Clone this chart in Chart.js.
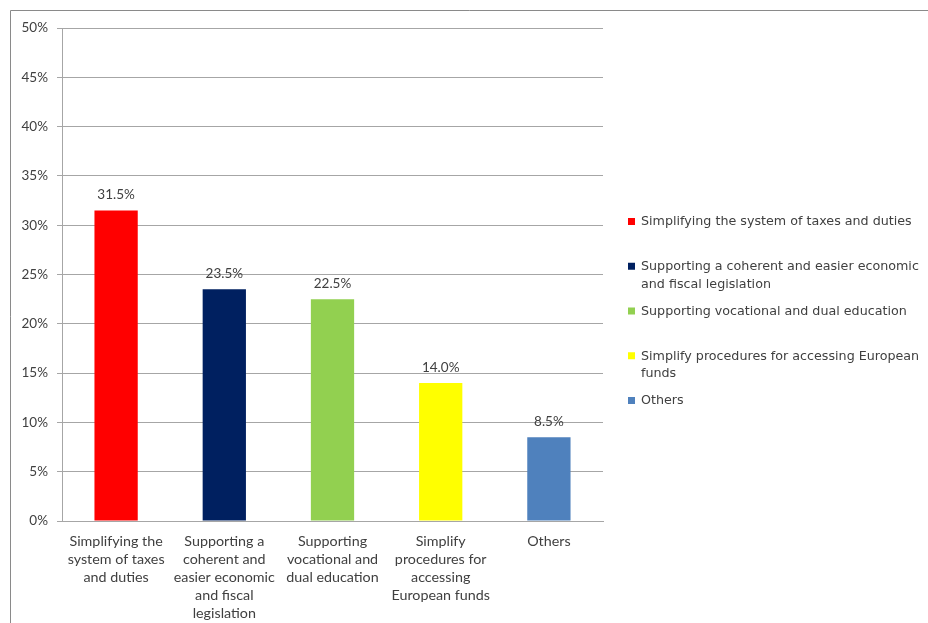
<!DOCTYPE html>
<html>
<head>
<meta charset="utf-8">
<script src="https://cdn.jsdelivr.net/npm/chart.js@4/dist/chart.umd.min.js"></script>
<style>
  html, body { margin: 0; padding: 0; background: #ffffff; }
  #wrap { width: 928px; height: 623px; position: relative; }
</style>
</head>
<body>
<div id="wrap"><canvas id="chart" width="928" height="623"></canvas></div>
<script>
// Categories (axis labels, wrapped) and legend names
const categories = [
  ["Simplifying the", "system of taxes", "and duties"],
  ["Supporting a", "coherent and", "easier economic", "and fiscal", "legislation"],
  ["Supporting", "vocational and", "dual education"],
  ["Simplify", "procedures for", "accessing", "European funds"],
  ["Others"]
];
const legendNames = [
  "Simplifying the system of taxes and duties",
  "Supporting a coherent and easier economic and fiscal legislation",
  "Supporting vocational and dual education",
  "Simplify procedures for accessing European funds",
  "Others"
];
// Share of respondents, percent
const shares = [31.5, 23.5, 22.5, 14.0, 8.5];
const barColors = ["#FF0000", "#002060", "#92D050", "#FFFF00", "#4F81BD"];
// Value axis
const yMin = 0, yMax = 50, yStep = 5;

const labelFont = "Lato, 'Liberation Sans', sans-serif";
const textColor = "#404040";

// Outer frame of the chart box
const framePlugin = {
  id: "frame",
  beforeDraw(chart) {
    const ctx = chart.ctx;
    ctx.save();
    ctx.strokeStyle = "#8a8a8a";
    ctx.lineWidth = 1;
    ctx.beginPath();
    ctx.moveTo(10.5, chart.height);
    ctx.lineTo(10.5, 10.5);
    ctx.lineTo(chart.width, 10.5);
    ctx.stroke();
    ctx.restore();
  }
};

// Value labels above each bar
const valueLabels = {
  id: "valueLabels",
  afterDatasetsDraw(chart) {
    const ctx = chart.ctx;
    const meta = chart.getDatasetMeta(0);
    ctx.save();
    ctx.font = "13.5px " + labelFont;
    ctx.fillStyle = textColor;
    ctx.textAlign = "center";
    ctx.textBaseline = "middle";
    meta.data.forEach((bar, i) => {
      const v = chart.data.datasets[0].data[i];
      ctx.fillText(v.toFixed(1) + "%", bar.x, bar.y - 15.5);
    });
    ctx.restore();
  }
};

// Legend on the right, wrapped to the space left of the edge
const sideLegend = {
  id: "sideLegend",
  afterDraw(chart) {
    const ctx = chart.ctx;
    const area = chart.chartArea;
    const boxX = area.right + 25;
    const textX = boxX + 13;
    const maxW = chart.width - textX - 3;
    const firstY = 222, step = 44.75, lineH = 17.5;
    ctx.save();
    ctx.font = "12.7px 'DejaVu Sans', sans-serif";
    ctx.textBaseline = "middle";
    ctx.textAlign = "left";
    legendNames.forEach((name, i) => {
      const y = firstY + i * step;
      ctx.fillStyle = barColors[i];
      ctx.fillRect(boxX, y - 4, 7, 7);
      // word wrap
      const words = name.split(" ");
      const lines = [];
      let cur = "";
      words.forEach(w => {
        const t = cur ? cur + " " + w : w;
        if (ctx.measureText(t).width > maxW && cur) { lines.push(cur); cur = w; }
        else cur = t;
      });
      if (cur) lines.push(cur);
      ctx.fillStyle = textColor;
      lines.forEach((ln, k) => ctx.fillText(ln, textX, y + k * lineH));
    });
    ctx.restore();
  }
};

new Chart(document.getElementById("chart"), {
  type: "bar",
  data: {
    labels: categories,
    datasets: [{
      data: shares,
      backgroundColor: barColors,
      borderWidth: 0,
      categoryPercentage: 1.0,
      barPercentage: 0.4
    }]
  },
  options: {
    responsive: false,
    animation: false,
    layout: { padding: { left: 0, top: 28, right: 325, bottom: 0 } },
    plugins: {
      legend: { display: false },
      title: { display: false },
      tooltip: { enabled: false }
    },
    scales: {
      x: {
        grid: { display: false, drawTicks: false },
        border: { display: true, color: "#a6a6a6", width: 1 },
        ticks: {
          color: textColor,
          font: { family: labelFont, size: 14.3, lineHeight: 1.26 },
          padding: 11,
          maxRotation: 0,
          autoSkip: false
        },
        afterFit(scale) { scale.height = 102; }
      },
      y: {
        min: yMin,
        max: yMax,
        grid: { color: "#a6a6a6", lineWidth: 1, tickLength: 5, drawTicks: true },
        border: { display: true, color: "#a6a6a6", width: 1 },
        ticks: {
          stepSize: yStep,
          color: textColor,
          font: { family: labelFont, size: 13.5 },
          padding: 9,
          callback: v => v + "%"
        },
        afterFit(scale) { scale.width = 62; }
      }
    }
  },
  plugins: [framePlugin, valueLabels, sideLegend]
});
</script>
</body>
</html>
